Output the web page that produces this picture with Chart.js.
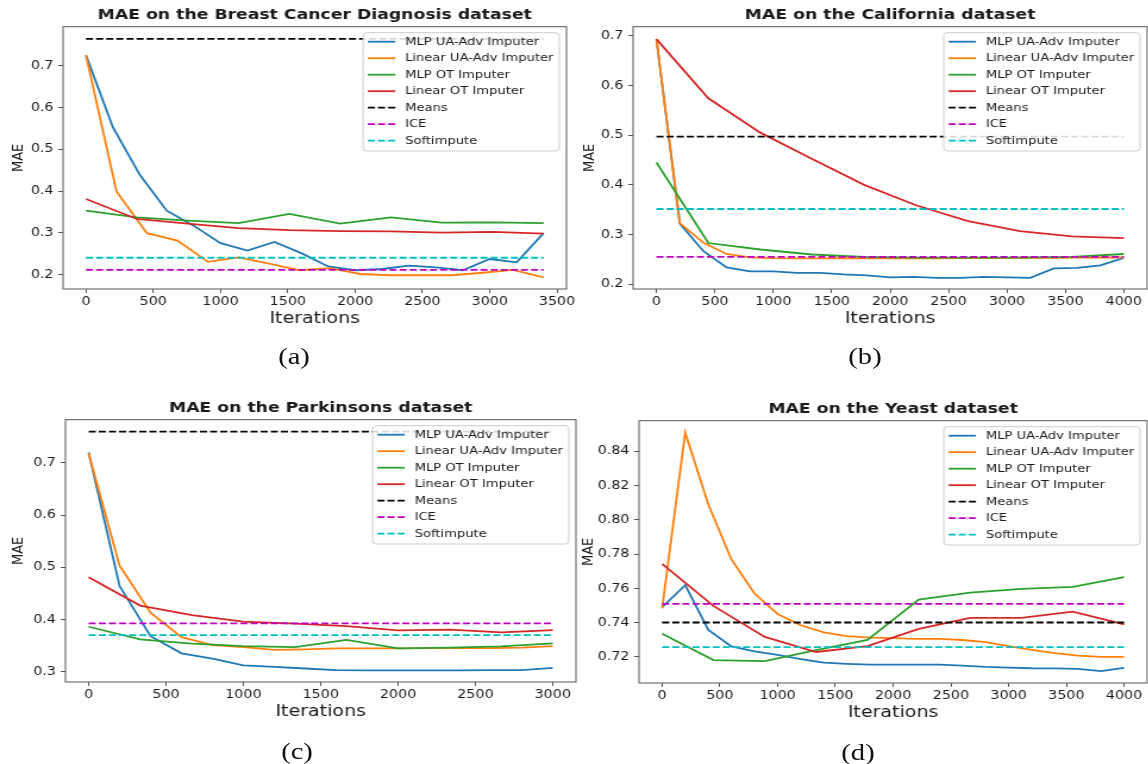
<!DOCTYPE html>
<html>
<head>
<meta charset="utf-8">
<script src="https://cdn.jsdelivr.net/npm/chart.js@4.4.1/dist/chart.umd.min.js"></script>
<style>
  html, body { margin: 0; padding: 0; background: #fff; overflow: hidden; }
  #fig { position: absolute; left: 0; top: 0; width: 965px; height: 764px; transform-origin: 0 0; }
  #fig canvas { position: absolute; }
  .cap { position: absolute; font-family: "Liberation Serif", serif; font-size: 24px; line-height: 1; color: #111; transform: translate(-50%, -50%); white-space: nowrap; }
</style>
</head>
<body>
<div id="fig"></div>
<script>
// ==================== DATA ====================
const seriesNames = ["MLP UA-Adv Imputer", "Linear UA-Adv Imputer", "MLP OT Imputer", "Linear OT Imputer", "Means", "ICE", "Softimpute"];

// (a) Breast Cancer Diagnosis
const bcIter200 = [0, 200, 400, 600, 800, 1000, 1200, 1400, 1600, 1800, 2000, 2200, 2400, 2600, 2800, 3000, 3200, 3400];
const bcMlpAdv = [0.726, 0.553, 0.439, 0.353, 0.317, 0.275, 0.257, 0.278, 0.251, 0.219, 0.210, 0.213, 0.221, 0.217, 0.210, 0.237, 0.229, 0.299];
const bcIter227 = [0, 227, 453, 680, 907, 1133, 1360, 1587, 1813, 2040, 2267, 2493, 2720, 2947, 3173, 3400];
const bcLinAdv = [0.726, 0.399, 0.299, 0.281, 0.230, 0.241, 0.226, 0.210, 0.215, 0.201, 0.198, 0.198, 0.198, 0.204, 0.211, 0.193];
const bcIter378 = [0, 378, 756, 1133, 1511, 1889, 2267, 2644, 3022, 3400];
const bcMlpOt = [0.353, 0.337, 0.329, 0.323, 0.345, 0.322, 0.337, 0.324, 0.325, 0.323];
const bcLinOt = [0.381, 0.333, 0.322, 0.311, 0.306, 0.304, 0.303, 0.300, 0.302, 0.298];
const bcRefs = [0.765, 0.211, 0.240]; // Means, ICE, Softimpute
const bcXTicks = [0, 500, 1000, 1500, 2000, 2500, 3000, 3500];
const bcYTicks = [0.2, 0.3, 0.4, 0.5, 0.6, 0.7];

// (b) California
const caIter200 = [0, 200, 400, 600, 800, 1000, 1200, 1400, 1600, 1800, 2000, 2200, 2400, 2600, 2800, 3000, 3200, 3400, 3600, 3800, 4000];
const caMlpAdv = [0.693, 0.322, 0.267, 0.234, 0.226, 0.226, 0.223, 0.223, 0.220, 0.218, 0.214, 0.215, 0.213, 0.213, 0.215, 0.214, 0.213, 0.232, 0.233, 0.238, 0.253];
const caLinAdv = [0.693, 0.323, 0.284, 0.261, 0.254, 0.2525, 0.252, 0.252, 0.2525, 0.252, 0.252, 0.252, 0.252, 0.2525, 0.2525, 0.253, 0.2535, 0.253, 0.2535, 0.254, 0.2535];
const caIter444 = [0, 444, 889, 1333, 1778, 2222, 2667, 3111, 3556, 4000];
const caMlpOt = [0.445, 0.283, 0.270, 0.260, 0.255, 0.2536, 0.2536, 0.2536, 0.255, 0.261];
const caLinOt = [0.693, 0.574, 0.505, 0.452, 0.400, 0.359, 0.327, 0.307, 0.2965, 0.293];
const caRefs = [0.497, 0.255, 0.3515];
const caXTicks = [0, 500, 1000, 1500, 2000, 2500, 3000, 3500, 4000];
const caYTicks = [0.2, 0.3, 0.4, 0.5, 0.6, 0.7];

// (c) Parkinsons
const paIter200 = [0, 200, 400, 600, 800, 1000, 1200, 1400, 1600, 1800, 2000, 2200, 2400, 2600, 2800, 3000];
const paMlpAdv = [0.720, 0.464, 0.368, 0.335, 0.325, 0.312, 0.309, 0.306, 0.303, 0.3025, 0.3025, 0.3025, 0.3025, 0.303, 0.303, 0.307];
const paLinAdv = [0.718, 0.503, 0.413, 0.366, 0.351, 0.347, 0.3415, 0.3425, 0.3445, 0.3445, 0.3445, 0.345, 0.345, 0.345, 0.346, 0.349];
const paIter333 = [0, 333, 667, 1000, 1333, 1667, 2000, 2333, 2667, 3000];
const paMlpOt = [0.386, 0.362, 0.3536, 0.349, 0.347, 0.361, 0.3446, 0.3459, 0.3484, 0.354];
const paLinOt = [0.481, 0.4265, 0.4083, 0.3957, 0.392, 0.3873, 0.379, 0.3804, 0.3752, 0.3797];
const paRefs = [0.760, 0.3924, 0.370];
const paXTicks = [0, 500, 1000, 1500, 2000, 2500, 3000];
const paYTicks = [0.3, 0.4, 0.5, 0.6, 0.7];

// (d) Yeast
const yeIter200 = [0, 200, 400, 600, 800, 1000, 1200, 1400, 1600, 1800, 2000, 2200, 2400, 2600, 2800, 3000, 3200, 3400, 3600, 3800, 4000];
const yeMlpAdv = [0.7490, 0.7619, 0.7358, 0.7262, 0.7233, 0.7212, 0.7188, 0.7167, 0.7160, 0.7155, 0.7155, 0.7155, 0.7155, 0.7150, 0.7142, 0.7138, 0.7134, 0.7133, 0.7130, 0.7117, 0.7136];
const yeLinAdv = [0.7483, 0.8509, 0.8090, 0.7769, 0.7570, 0.7451, 0.7385, 0.7344, 0.7321, 0.7313, 0.7310, 0.7306, 0.7306, 0.7299, 0.7286, 0.7263, 0.7241, 0.7223, 0.7208, 0.7200, 0.7200];
const yeIter444 = [0, 444, 889, 1333, 1778, 2222, 2667, 3111, 3556, 4000];
const yeMlpOt = [0.7335, 0.7182, 0.7176, 0.7240, 0.7300, 0.7535, 0.7576, 0.7597, 0.7609, 0.7666];
const yeLinOt = [0.7743, 0.7498, 0.7317, 0.7229, 0.7263, 0.7364, 0.7428, 0.7428, 0.7465, 0.7390];
const yeRefs = [0.7401, 0.7510, 0.7257];
const yeXTicks = [0, 500, 1000, 1500, 2000, 2500, 3000, 3500, 4000];
const yeYTicks = [0.72, 0.74, 0.76, 0.78, 0.80, 0.82, 0.84];

// ==================== STYLE / LAYOUT ====================
const S = 1.19; // the source figure is stretched horizontally
const YW = 52, XH = 42;
const TITLE_H = 2 + 14.5 * 1.2 + 2.3;
const INK = "#1a1a1a", EDGE = "#555";
const colors = ["#1f77b4", "#ff7f0e", "#2ca02c", "#d62728", "#000000", "#bf00bf", "#00bfbf"];
const DASH = [6, 2.5];

Chart.defaults.font.family = '"DejaVu Sans", sans-serif';

const panels = [
  { title: "MAE on the Breast Cancer Diagnosis dataset", frame: [63.3, 26.7, 566.7, 289.3], x: [-170, 3570], y: [0.165, 0.7942],
    xTicks: bcXTicks, yTicks: bcYTicks, digits: 1, maePad: 7, xEnd: 3400,
    series: [[bcIter200, bcMlpAdv], [bcIter227, bcLinAdv], [bcIter378, bcMlpOt], [bcIter378, bcLinOt]], refs: bcRefs,
    cap: "(a)", capPos: [294, 356] },
  { title: "MAE on the California dataset", frame: [632.9, 26.7, 1147.2, 289.0], x: [-200, 4200], y: [0.1906, 0.718],
    xTicks: caXTicks, yTicks: caYTicks, digits: 1, maePad: 8.2, xEnd: 4000,
    series: [[caIter200, caMlpAdv], [caIter200, caLinAdv], [caIter444, caMlpOt], [caIter444, caLinOt]], refs: caRefs,
    cap: "(b)", capPos: [865, 356] },
  { title: "MAE on the Parkinsons dataset", frame: [65.9, 420.0, 576.0, 682.7], x: [-150, 3150], y: [0.2801, 0.7829],
    xTicks: paXTicks, yTicks: paYTicks, digits: 1, maePad: 4.8, xEnd: 3000,
    series: [[paIter200, paMlpAdv], [paIter200, paLinAdv], [paIter333, paMlpOt], [paIter333, paLinOt]], refs: paRefs,
    cap: "(c)", capPos: [297, 751] },
  { title: "MAE on the Yeast dataset", frame: [639.2, 420.7, 1147.3, 682.7], x: [-200, 4200], y: [0.7048, 0.8579],
    xTicks: yeXTicks, yTicks: yeYTicks, digits: 2, maePad: 1.7, xEnd: 4000,
    series: [[yeIter200, yeMlpAdv], [yeIter200, yeLinAdv], [yeIter444, yeMlpOt], [yeIter444, yeLinOt]], refs: yeRefs,
    cap: "(d)", capPos: [858, 752] }
];

// title over the axes, frame (all four spines) + matplotlib-like legend in the upper right
const frameLegend = {
  id: "frameLegend",
  afterDatasetsDraw(chart, args, opts) {
    const { ctx, chartArea: a } = chart;
    ctx.save();
    ctx.strokeStyle = EDGE;
    ctx.lineWidth = 1;
    ctx.strokeRect(a.left, a.top, a.right - a.left, a.bottom - a.top);

    ctx.fillStyle = INK;
    ctx.font = 'bold 14.5px "DejaVu Sans"';
    ctx.textAlign = "center";
    ctx.textBaseline = "middle";
    ctx.fillText(opts.title, (a.left + a.right) / 2, a.top - 11);

    const sets = chart.data.datasets;
    ctx.font = '11px "DejaVu Sans"';
    const tw = Math.max(...sets.map(d => ctx.measureText(d.label).width));
    const rowH = 16.5;
    const w = 4 + 23 + 8.3 + tw + 5;
    const h = 9 + rowH * (sets.length - 1) + 10.3;
    const x0 = a.right - 6 - w, y0 = a.top + 6;
    ctx.beginPath();
    ctx.roundRect(x0, y0, w, h, 3);
    ctx.fillStyle = "rgba(255,255,255,0.85)";
    ctx.fill();
    ctx.strokeStyle = "#cccccc";
    ctx.stroke();

    sets.forEach((d, i) => {
      const y = y0 + 9 + i * rowH;
      ctx.beginPath();
      ctx.setLineDash(d.borderDash || []);
      ctx.strokeStyle = d.borderColor;
      ctx.lineWidth = d.borderWidth;
      ctx.moveTo(x0 + 4, y);
      ctx.lineTo(x0 + 27, y);
      ctx.stroke();
      ctx.setLineDash([]);
      ctx.fillStyle = INK;
      ctx.textBaseline = "middle";
      ctx.textAlign = "left";
      ctx.fillText(d.label, x0 + 35.3, y);
    });
    ctx.restore();
  }
};

// ==================== BUILD ====================
const fig = document.getElementById("fig");
fig.style.transform = `scaleX(${S})`;

function buildPanel(p) {
  const fl = p.frame[0] / S, ft = p.frame[1], fr = p.frame[2] / S, fb = p.frame[3];
  const canvas = document.createElement("canvas");
  const W = Math.round(2 * YW + (fr - fl));
  const H = Math.round(TITLE_H + (fb - ft) + XH);
  canvas.width = W;
  canvas.height = H;
  canvas.style.width = W + "px";
  canvas.style.height = H + "px";
  canvas.style.left = (fl - YW) + "px";
  canvas.style.top = (ft - TITLE_H) + "px";
  fig.appendChild(canvas);

  const lines = p.series.map(([xs, ys], i) => ({
    label: seriesNames[i],
    data: xs.map((x, j) => ({ x, y: ys[j] })),
    borderColor: colors[i],
    borderWidth: 1.8,
    borderDash: [],
    order: 7 - i
  }));
  const refs = p.refs.map((v, k) => ({
    label: seriesNames[4 + k],
    data: [{ x: 0, y: v }, { x: p.xEnd, y: v }],
    borderColor: colors[4 + k],
    borderWidth: 1.8,
    borderDash: DASH,
    order: 3 - k
  }));

  new Chart(canvas, {
    type: "line",
    data: { datasets: lines.concat(refs) },
    options: {
      responsive: false,
      animation: false,
      devicePixelRatio: 1,
      layout: { padding: { left: 0, right: YW, top: TITLE_H, bottom: 0 } },
      elements: { point: { radius: 0 }, line: { tension: 0, fill: false, borderCapStyle: "butt" } },
      plugins: {
        legend: { display: false },
        tooltip: { enabled: false },
        title: { display: false },
        frameLegend: { title: p.title }
      },
      scales: {
        x: {
          type: "linear", min: p.x[0], max: p.x[1],
          afterBuildTicks: ax => { ax.ticks = p.xTicks.map(v => ({ value: v })); },
          afterFit: ax => { ax.height = XH; },
          grid: { drawOnChartArea: false, drawTicks: true, tickLength: 4, color: EDGE },
          border: { display: false },
          ticks: { color: INK, font: { size: 12 }, padding: 1.5, maxRotation: 0, autoSkip: false, callback: v => String(v) },
          title: { display: true, text: "Iterations", color: INK, font: { size: 16 }, padding: { top: 0, bottom: 2.1 } }
        },
        y: {
          type: "linear", min: p.y[0], max: p.y[1],
          afterBuildTicks: ax => { ax.ticks = p.yTicks.map(v => ({ value: v })); },
          afterFit: ax => { ax.width = YW; },
          grid: { drawOnChartArea: false, drawTicks: true, tickLength: 4, color: EDGE },
          border: { display: false },
          ticks: { color: INK, font: { size: 12 }, padding: 4, autoSkip: false, callback: v => v.toFixed(p.digits) },
          title: { display: true, text: "MAE", color: INK, font: { size: 13 }, padding: { top: p.maePad, bottom: 0 } }
        }
      }
    },
    plugins: [frameLegend]
  });

  const cap = document.createElement("div");
  cap.className = "cap";
  cap.textContent = p.cap;
  cap.style.left = (p.capPos[0] / S) + "px";
  cap.style.top = p.capPos[1] + "px";
  fig.appendChild(cap);
}

panels.forEach(buildPanel);
</script>
</body>
</html>
